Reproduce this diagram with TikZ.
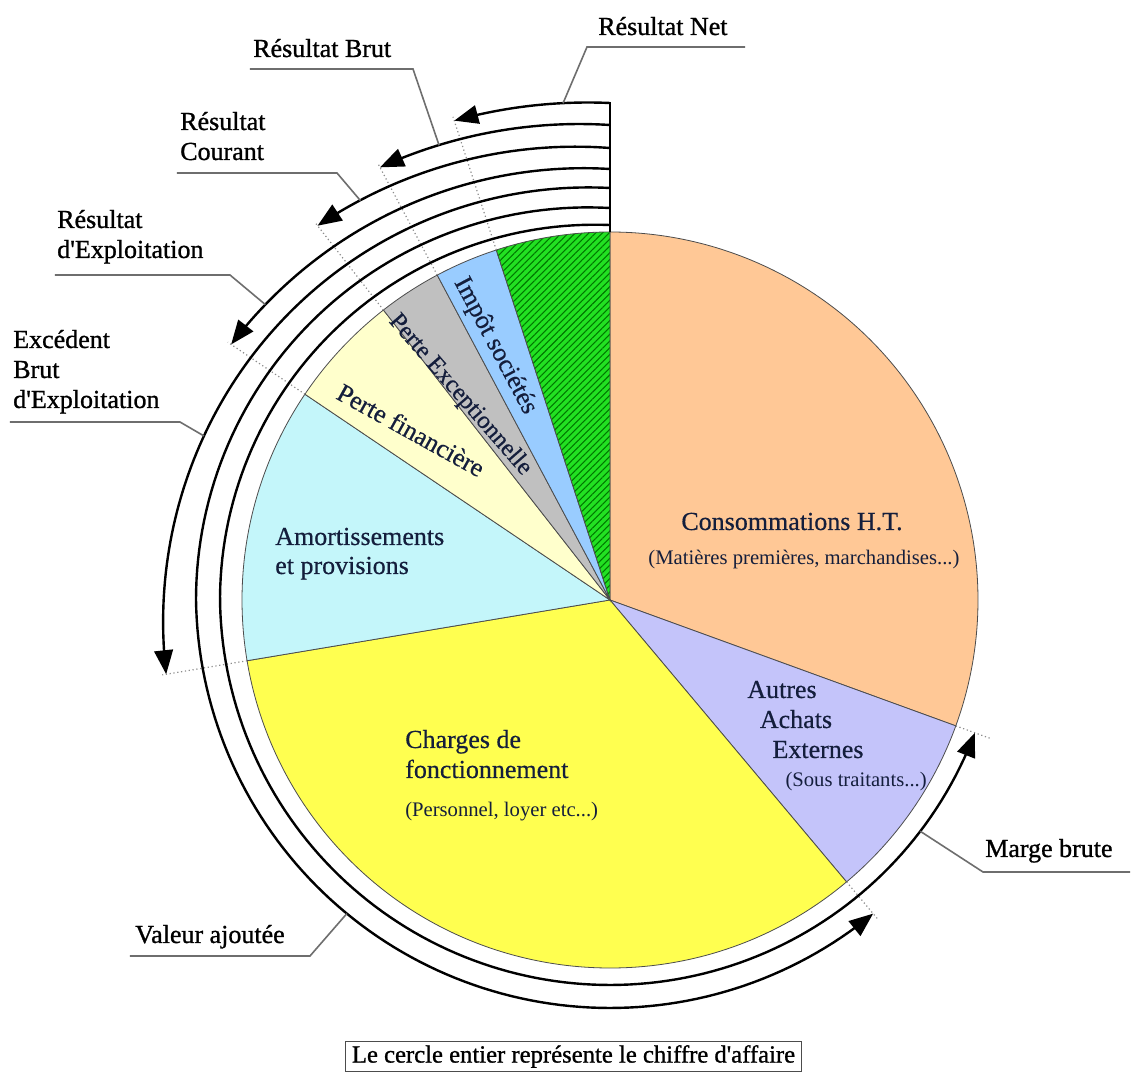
\documentclass[tikz,border=0pt]{standalone}
\usepackage{fontspec}
\setmainfont{Liberation Serif}
\newfontfamily\outerfont{Liberation Serif}[FakeBold=1.0]
\newfontfamily\innerfont{Liberation Serif}[FakeBold=0.5]
\usetikzlibrary{arrows.meta,patterns.meta}

\definecolor{cOrange}{RGB}{255,200,150}
\definecolor{cLav}{RGB}{196,196,250}
\definecolor{cYel}{RGB}{255,255,80}
\definecolor{cCyan}{RGB}{196,246,250}
\definecolor{cPale}{RGB}{255,255,204}
\definecolor{cGrey}{RGB}{192,192,192}
\definecolor{cBlue}{RGB}{153,204,255}
\definecolor{cGreen}{RGB}{34,225,34}
\definecolor{cGreenD}{RGB}{0,120,0}
\definecolor{cInk}{RGB}{20,30,60}
\definecolor{cLead}{RGB}{110,110,110}

\begin{document}
\begin{tikzpicture}[x=0.75pt,y=0.75pt,
  slice/.style={draw=black!70, line width=0.6pt},
  ring/.style={line width=1.8pt, -{Triangle[length=18pt,width=14pt]}},
  guide/.style={draw=black!45, dotted, line width=0.9pt},
  leader/.style={draw=cLead, line width=1.2pt},
  lbl/.style={font=\outerfont\fontsize{19.5}{22.5}\selectfont, inner sep=0pt, align=left},
  inlbl/.style={font=\innerfont\fontsize{19.5}{22.5}\selectfont, text=cInk, inner sep=0pt},
  sublbl/.style={font=\fontsize{15.5}{17}\selectfont, text=cInk, inner sep=0pt},
]
\useasboundingbox (-610,-473) rectangle (522,600);
\fill[white] (-610,-473) rectangle (522,600);
\def\R{368}

% slices
\filldraw[slice, fill=cOrange] (0,0) -- (90:\R) arc[start angle=90, end angle=-20, radius=\R] -- cycle;
\filldraw[slice, fill=cLav] (0,0) -- (-20:\R) arc[start angle=-20, end angle=-50, radius=\R] -- cycle;
\filldraw[slice, fill=cYel] (0,0) -- (-50:\R) arc[start angle=-50, end angle=-170.5, radius=\R] -- cycle;
\filldraw[slice, fill=cCyan] (0,0) -- (189.5:\R) arc[start angle=189.5, end angle=146, radius=\R] -- cycle;
\filldraw[slice, fill=cPale] (0,0) -- (146:\R) arc[start angle=146, end angle=128, radius=\R] -- cycle;
\filldraw[slice, fill=cGrey] (0,0) -- (128:\R) arc[start angle=128, end angle=118, radius=\R] -- cycle;
\filldraw[slice, fill=cBlue] (0,0) -- (118:\R) arc[start angle=118, end angle=108, radius=\R] -- cycle;
\fill[cGreen] (0,0) -- (108:\R) arc[start angle=108, end angle=90, radius=\R] -- cycle;
\fill[pattern={Lines[angle=45,distance=3.6pt,line width=0.8pt]}, pattern color=cGreenD] (0,0) -- (108:\R) arc[start angle=108, end angle=90, radius=\R] -- cycle;
\draw[slice] (0,0) -- (108:\R) arc[start angle=108, end angle=90, radius=\R] -- cycle;

% dotted guides
\draw[guide] (108:\R) -- (108:508);
\draw[guide] (118:\R) -- (118:494);
\draw[guide] (128:\R) -- (128:479);
\draw[guide] (146:\R) -- (146:461);
\draw[guide] (189.5:\R) -- (189.5:454);
\draw[guide] (-50:\R) -- (-50:418);
\draw[guide] (-20:\R) -- (-20:404);

% vertical start line
\draw[line width=1.8pt] (90:\R) -- (90:498);

% rings
\draw[ring] plot[domain=90:108, samples=40, variable=\t] (\t:{497+7*(\t-90)/18});
\draw[ring] plot[domain=90:118, samples=50, variable=\t] (\t:{475+15*(\t-90)/28});
\draw[ring] plot[domain=90:128, samples=60, variable=\t] (\t:{452+23*(\t-90)/38});
\draw[ring] plot[domain=90:146, samples=70, variable=\t] (\t:{431+26*(\t-90)/56});
\draw[ring] plot[domain=90:189.5, samples=100, variable=\t] (\t:{412+38*(\t-90)/99.5});
\draw[ring] plot[domain=90:310, samples=160, variable=\t] (\t:{392+22*sin(min(\t-90,90))-6*sin(max(0,min(\t-180,180)))});
\draw[ring] plot[domain=90:340, samples=180, variable=\t] (\t:{375+15*sin(min(\t-90,90))-5*sin(max(0,min(\t-180,180)))});

% leader anchor points on rings
\coordinate (pRN) at (95.4:499);
\coordinate (pRB) at (110.6:486);
\coordinate (pRC) at (122:471);
\coordinate (pRE) at (139.4:454);
\coordinate (pEBE) at (158:438);
\coordinate (pVA) at (230:409.5);
\coordinate (pMB) at (323.3:387);
\coordinate (kRN) at (-23,553);  \coordinate (eRN) at (135,553);
\coordinate (kRB) at (-197,531); \coordinate (eRB) at (-360,531);
\coordinate (kRC) at (-273,427); \coordinate (eRC) at (-433,427);
\coordinate (kRE) at (-380,325); \coordinate (eRE) at (-555,325);
\coordinate (kEBE) at (-430,178); \coordinate (eEBE) at (-600,178);
\coordinate (kVA) at (-300,-356); \coordinate (eVA) at (-480,-356);
\coordinate (kMB) at (373,-272); \coordinate (eMB) at (520,-272);

\draw[leader] (pRN) -- (kRN) -- (eRN);
\draw[leader] (pRB) -- (kRB) -- (eRB);
\draw[leader] (pRC) -- (kRC) -- (eRC);
\draw[leader] (pRE) -- (kRE) -- (eRE);
\draw[leader] (pEBE) -- (kEBE) -- (eEBE);
\draw[leader] (pVA) -- (kVA) -- (eVA);
\draw[leader] (pMB) -- (kMB) -- (eMB);

% outer labels (base = last line)
\node[lbl, anchor=base west] (lRN) at (-12,565) {Résultat Net};
\node[lbl, anchor=base west] (lRB) at (-357,543) {Résultat Brut};
\node[lbl, anchor=base west] (lRC) at (-430,440) {Résultat\\Courant};
\node[lbl, anchor=base west] (lRE) at (-553,342) {Résultat\\d'Exploitation};
\node[lbl, anchor=base west] (lEBE) at (-597,192) {Excédent\\Brut\\d'Exploitation};
\node[lbl, anchor=base west] (lVA) at (-475,-343) {Valeur ajoutée};
\node[lbl, anchor=base west] (lMB) at (375,-257) {Marge brute};

% inner labels
\node[inlbl, anchor=base] (tCons) at (182,70) {Consommations H.T.};
\node[sublbl, anchor=base] (tConsS) at (194,35) {(Matières premières, marchandises...)};
\node[inlbl, anchor=base] (tAut1) at (172,-98) {Autres};
\node[inlbl, anchor=base] (tAut2) at (186,-128) {Achats};
\node[inlbl, anchor=base] (tAut3) at (208,-158) {Externes};
\node[sublbl, anchor=base east] (tAutS) at (317,-187) {(Sous traitants...)};
\node[inlbl, anchor=base west] (tCh1) at (-205,-148) {Charges de};
\node[inlbl, anchor=base west] (tCh2) at (-205,-178) {fonctionnement};
\node[sublbl, anchor=base west] (tChS) at (-205,-217) {(Personnel, loyer etc...)};
\node[inlbl, anchor=base west] (tAm1) at (-335,55) {Amortissements};
\node[inlbl, anchor=base west] (tAm2) at (-335,26) {et provisions};
\node[inlbl, rotate=-29] (tPF) at (-199,170) {Perte financière};
\node[inlbl, rotate=-49, font=\innerfont\fontsize{18.5}{21}\selectfont] (tPE) at (-150,205) {Perte Exceptionnelle};
\node[inlbl, rotate=-62] (tIS) at (-115,254) {Impôt sociétés};

% caption
\node[lbl, draw=black!70, line width=0.8pt, inner xsep=5pt, inner ysep=3pt, font=\outerfont\fontsize{18.5}{21}\selectfont] (cap) at (-36.5,-456.5) {Le cercle entier représente le chiffre d'affaire};
\end{tikzpicture}
\end{document}
